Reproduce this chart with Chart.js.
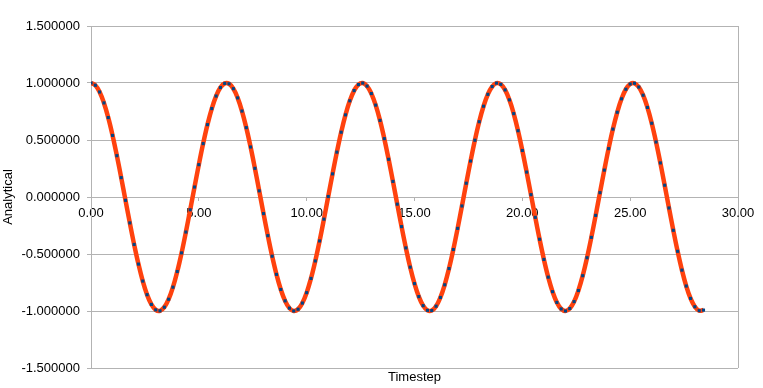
<!DOCTYPE html>
<html>
<head>
<meta charset="utf-8">
<script src="https://cdn.jsdelivr.net/npm/chart.js@4/dist/chart.umd.min.js"></script>
<style>
  body { margin: 0; background: #fff; }
  canvas { display: block; }
</style>
</head>
<body>
<canvas id="chart" width="763" height="388"></canvas>
<script>
// values (step 0.2)
var timestep = [
  0.0, 0.2, 0.4, 0.6, 0.8, 1.0, 1.2, 1.4, 1.6, 1.8,
  2.0, 2.2, 2.4, 2.6, 2.8, 3.0, 3.2, 3.4, 3.6, 3.8,
  4.0, 4.2, 4.4, 4.6, 4.8, 5.0, 5.2, 5.4, 5.6, 5.8,
  6.0, 6.2, 6.4, 6.6, 6.8, 7.0, 7.2, 7.4, 7.6, 7.8,
  8.0, 8.2, 8.4, 8.6, 8.8, 9.0, 9.2, 9.4, 9.6, 9.8,
  10.0, 10.2, 10.4, 10.6, 10.8, 11.0, 11.2, 11.4, 11.6, 11.8,
  12.0, 12.2, 12.4, 12.6, 12.8, 13.0, 13.2, 13.4, 13.6, 13.8,
  14.0, 14.2, 14.4, 14.6, 14.8, 15.0, 15.2, 15.4, 15.6, 15.8,
  16.0, 16.2, 16.4, 16.6, 16.8, 17.0, 17.2, 17.4, 17.6, 17.8,
  18.0, 18.2, 18.4, 18.6, 18.8, 19.0, 19.2, 19.4, 19.6, 19.8,
  20.0, 20.2, 20.4, 20.6, 20.8, 21.0, 21.2, 21.4, 21.6, 21.8,
  22.0, 22.2, 22.4, 22.6, 22.8, 23.0, 23.2, 23.4, 23.6, 23.8,
  24.0, 24.2, 24.4, 24.6, 24.8, 25.0, 25.2, 25.4, 25.6, 25.8,
  26.0, 26.2, 26.4, 26.6, 26.8, 27.0, 27.2, 27.4, 27.6, 27.8,
  28.0, 28.2, 28.4
];
var analytical = [
  1.0000, 0.9801, 0.9211, 0.8253, 0.6967, 0.5403, 0.3624, 0.1700, -0.0292, -0.2272,
  -0.4161, -0.5885, -0.7374, -0.8569, -0.9422, -0.9900, -0.9983, -0.9668, -0.8968, -0.7910,
  -0.6536, -0.4903, -0.3073, -0.1122, 0.0875, 0.2837, 0.4685, 0.6347, 0.7756, 0.8855,
  0.9602, 0.9965, 0.9932, 0.9502, 0.8694, 0.7539, 0.6084, 0.4385, 0.2513, 0.0540,
  -0.1455, -0.3392, -0.5193, -0.6787, -0.8111, -0.9111, -0.9748, -0.9997, -0.9847, -0.9304,
  -0.8391, -0.7143, -0.5610, -0.3854, -0.1943, 0.0044, 0.2030, 0.3935, 0.5683, 0.7204,
  0.8439, 0.9336, 0.9862, 0.9994, 0.9728, 0.9074, 0.8059, 0.6722, 0.5117, 0.3308,
  0.1367, -0.0628, -0.2598, -0.4465, -0.6154, -0.7597, -0.8737, -0.9530, -0.9942, -0.9958,
  -0.9577, -0.8814, -0.7700, -0.6278, -0.4607, -0.2752, -0.0787, 0.1209, 0.3157, 0.4980,
  0.6603, 0.7964, 0.9006, 0.9690, 0.9988, 0.9887, 0.9392, 0.8523, 0.7314, 0.5813,
  0.4081, 0.2186, 0.0204, -0.1787, -0.3706, -0.5477, -0.7030, -0.8303, -0.9245, -0.9818,
  -1.0000, -0.9783, -0.9176, -0.8203, -0.6903, -0.5328, -0.3541, -0.1613, 0.0380, 0.2358,
  0.4242, 0.5956, 0.7433, 0.8613, 0.9452, 0.9912, 0.9977, 0.9645, 0.8928, 0.7855,
  0.6469, 0.4825, 0.2989, 0.1034, -0.0963, -0.2921, -0.4763, -0.6415, -0.7811, -0.8896,
  -0.9626, -0.9972, -0.9921
];
var xTitle = 'Timestep';
var yTitle = 'Analytical';

var points = timestep.map(function (t, i) { return { x: t, y: analytical[i] }; });
var gridGray = '#b3b3b3';

Chart.defaults.font.family = '"Liberation Sans", Arial, sans-serif';
Chart.defaults.font.size = 13;
Chart.defaults.color = '#000';

var ctx = document.getElementById('chart').getContext('2d');
var myChart = new Chart(ctx, {
  type: 'line',
  data: {
    datasets: [{
      label: 'Analytical',
      data: points,
      showLine: false,
      pointStyle: 'rect',
      pointRadius: 2.2,
      pointBorderWidth: 0,
      pointBackgroundColor: '#004586'
    }, {
      label: 'Line',
      data: points,
      borderColor: '#ff420e',
      borderWidth: 4.5,
      pointRadius: 0,
      tension: 0.4,
      fill: false
    }]
  },
  options: {
    responsive: false,
    animation: false,
    layout: { padding: { top: 26, right: 25, left: 0, bottom: 0 } },
    plugins: { legend: { display: false }, tooltip: { enabled: false } },
    scales: {
      x: {
        type: 'linear',
        position: { y: 0 },
        min: 0,
        max: 30,
        ticks: {
          stepSize: 5,
          padding: 6,
          maxRotation: 0,
          callback: function (v) { return v.toFixed(2); }
        },
        grid: {
          color: function (c) { return c.tick && c.tick.value === 30 ? gridGray : 'rgba(0,0,0,0)'; },
          tickColor: gridGray,
          tickLength: 3
        },
        border: { color: gridGray }
      },
      xt: {
        type: 'linear',
        position: 'bottom',
        min: 0,
        max: 30,
        ticks: { display: false },
        grid: { display: false },
        border: { display: false },
        title: { display: true, text: xTitle, padding: { top: 0, bottom: 3 } },
        afterFit: function (scale) { scale.height = 20; }
      },
      y: {
        min: -1.5,
        max: 1.5,
        ticks: {
          stepSize: 0.5,
          padding: 7,
          callback: function (v) { return v.toFixed(6); }
        },
        grid: { color: gridGray, tickLength: 4 },
        border: { color: gridGray },
        title: { display: true, text: yTitle, padding: { top: 1, bottom: 0 } },
        afterFit: function (scale) { scale.width = 91; }
      }
    }
  }
});
</script>
</body>
</html>
